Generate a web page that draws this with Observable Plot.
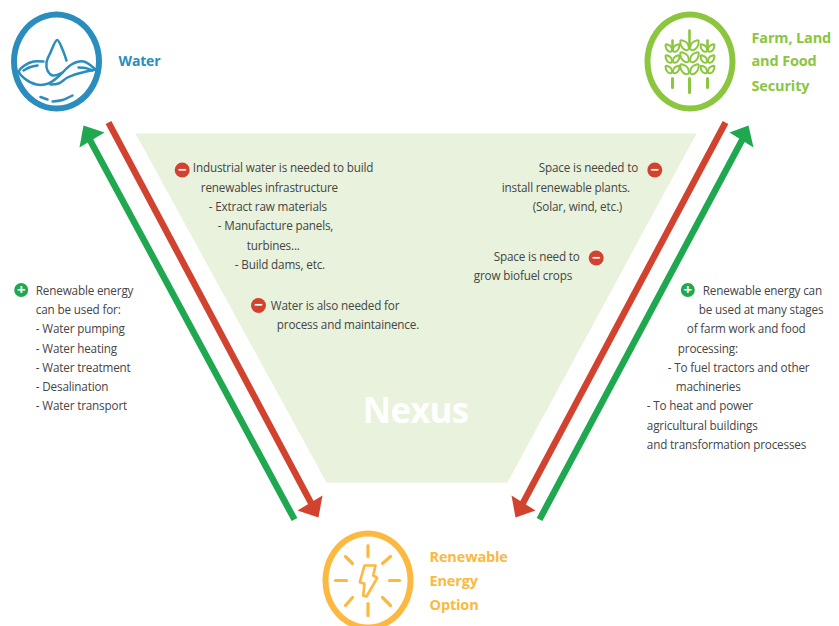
<!DOCTYPE html>
<html>
<head>
<meta charset="utf-8">
<style>html,body{margin:0;padding:0;background:#fff}svg{display:block}
.body-text text{letter-spacing:-.16px}
.title-text text{letter-spacing:-.15px}
.nexus-text text{letter-spacing:-.9px}</style>
<script src="https://cdn.jsdelivr.net/npm/d3@7"></script>
<script src="https://cdn.jsdelivr.net/npm/@observablehq/plot@0.6"></script>
</head>
<body>
<div id="chart"></div>
<script>
// Diagram content, in picture units of the x and y scales
const nexusPanel = [[135,133],[696,133],[507,482],[326,482]];

const greenShaftLeft = [[294,519],[87,135]];
const greenHeadLeft = [[83,125],[104,132],[79,147]];
const redShaftLeft = [[108,122],[314,509]];
const redHeadLeft = [[318,517],[297,510],[322,495]];
const redShaftRight = [[725,122],[519,509]];
const redHeadRight = [[515,517],[535,510],[511,495]];
const greenShaftRight = [[539,519],[744,135]];
const greenHeadRight = [[748,125],[729,132],[753,147]];

const ringOffsets = [[42.5,0],[36.8,23.5],[21.2,40.7],[0,47],[-21.2,40.7],[-36.8,23.5],[-42.5,0],[-36.8,-23.5],[-21.2,-40.7],[0,-47],[21.2,-40.7],[36.8,-23.5]];
const waterCentre = [56,61];
const farmCentre = [689.5,61];
const sunCentre = [367.5,580];

const waterStrokes = [
  [[43,61],[33,61],[24,65],[18.5,71],[24,78],[36,84],[48,83],[58,76],[71,64],[83,61],[95,69]],
  [[50,84],[58,83],[67,77],[78,73],[95,69]],
  [[23,70],[30,66.5],[37,65]],
  [[40,96.5],[47,99]],
  [[52,101],[62,99.5],[72,95]],
  [[78,67],[85,67.5],[92,70]]
];
const waterDrop = [[62,72],[52,75],[47,70],[46,62],[50,52],[56.7,39.5],[62,49],[66,60]];

const wheatStalks = [[672,0.75],[689,1],[707,0.75]];
const wheatStems = [[[672,78],[672,87]],[[689,78],[689,92]],[[707,78],[707,87]]];
const wheatSpikes = [[[672,40],[672,50]],[[689,30],[689,46]],[[707,40],[707,50]]];
const wheatRowsMiddle = [40,52,64];
const wheatRowsSide = [44,55,65.5];
const leafRight = [[1,9],[2,3],[7,0],[9,0],[8,6],[4,9.5]];

const sunRays = [
  [[367.5,545],[367.5,556]],[[367.5,603],[367.5,615]],
  [[335,580],[346,580]],[[389,580],[399,580]],
  [[345,556],[352,563]],[[390,556],[382,563]],
  [[345,605],[352,597]],[[390,605],[382,597]]
];
const sunBolt = [[364,565],[375,565],[372.7,575],[376.7,577.3],[366,596],[362.7,595],[364,583.3],[359.3,581.7]];

const minusSigns = [[181.7,169.5],[258,305],[654.3,169.5],[595.7,257.5]];
const plusSigns = [[20.7,289.5],[687.3,289.5]];

const bodyLines = [
  ["Renewable energy",36,291],["can be used for:",36,310],["- Water pumping",36,329],
  ["- Water heating",36,348.5],["- Water treatment",36,368],["- Desalination",36,387],["- Water transport",36,406],
  ["Industrial water is needed to build",193,168],["renewables infrastructure",201,188],
  ["- Extract raw materials",209,207],["- Manufacture panels,",218,226],["turbines...",247,246],
  ["- Build dams, etc.",235,265],["Water is also needed for",271,306],["process and maintainence.",277,325],
  ["Space is needed to",539,168],["install renewable plants.",502,188],["(Solar, wind, etc.)",533,207],
  ["Space is need to",494,257],["grow biofuel crops",474,276],
  ["Renewable energy can",703,291],["be used at many stages",699,310],["of farm work and food",687,329],
  ["processing:",678,349],["- To fuel tractors and other",668,368],["machineries",676,387],
  ["- To heat and power",647,406],["agricultural buildings",647,426],["and transformation processes",647,445]
];
const waterTitle = [["Water",118,61]];
const farmTitle = [["Farm, Land",751,38],["and Food",751,61],["Security",751,86]];
const energyTitle = [["Renewable",429,557],["Energy",429,581],["Option",429,605]];
const nexusTitle = [["Nexus",415,411]];

const BLUE="#2a8dbd", LEAF="#8cc63f", SUN="#fdb840", RED="#d2432f", GREEN="#1fa84f", INK="#454545", PALE="#e8f2dc";
const X=d=>d[0], Y=d=>d[1];
const poly=(pts,fill)=>Plot.line(pts,{x:X,y:Y,fill,stroke:"none",curve:"linear-closed"});
const shaft=(pts,stroke)=>Plot.line(pts,{x:X,y:Y,stroke,strokeWidth:6.5,strokeLinecap:"butt"});
const ring=(c,stroke,w)=>Plot.line(ringOffsets,{x:d=>c[0]+d[0],y:d=>c[1]+d[1],stroke,strokeWidth:w,curve:"catmull-rom-closed"});
const strokes=(list,stroke,w,curve)=>list.map(pts=>Plot.line(pts,{x:X,y:Y,stroke,strokeWidth:w,curve,strokeLinecap:"round",strokeLinejoin:"round"}));
const titles=(rows,fill,size)=>Plot.text(rows,{text:d=>d[0],x:d=>d[1],y:d=>d[2],fill,fontSize:size,fontWeight:700,textAnchor:"start",lineAnchor:"middle",fontFamily:"'Open Sans',sans-serif",className:"title-text"});

const leaves=[];
wheatStalks.forEach(([cx,s],i)=>{
  (i===1?wheatRowsMiddle:wheatRowsSide).forEach(top=>{
    [1,-1].forEach(dir=>{
      leaves.push(Plot.line(leafRight,{x:d=>cx+dir*s*d[0],y:d=>top+s*d[1],stroke:LEAF,strokeWidth:2,curve:"catmull-rom-closed"}));
    });
  });
});

const chart=Plot.plot({
  width:839,height:626,margin:0,
  style:{background:"#fff"},
  x:{domain:[0,839],range:[0,839],axis:null},
  y:{domain:[0,626],range:[0,626],axis:null},
  marks:[
    poly(nexusPanel,PALE),
    shaft(greenShaftLeft,GREEN),poly(greenHeadLeft,GREEN),
    shaft(redShaftLeft,RED),poly(redHeadLeft,RED),
    shaft(redShaftRight,RED),poly(redHeadRight,RED),
    shaft(greenShaftRight,GREEN),poly(greenHeadRight,GREEN),
    ring(waterCentre,BLUE,6),
    ...strokes(waterStrokes,BLUE,2.5,"catmull-rom"),
    ...strokes([waterDrop],BLUE,2.5,"catmull-rom"),
    ring(farmCentre,LEAF,6),
    ...strokes(wheatStems,LEAF,3,"linear"),
    ...strokes(wheatSpikes,LEAF,2.6,"linear"),
    ...leaves,
    ring(sunCentre,SUN,6),
    ...strokes(sunRays,SUN,3.2,"linear"),
    Plot.line(sunBolt,{x:X,y:Y,stroke:SUN,strokeWidth:2.6,curve:"linear-closed",strokeLinejoin:"round"}),
    Plot.dot(minusSigns,{x:X,y:Y,r:7.5,fill:RED,stroke:"none"}),
    Plot.dot(plusSigns,{x:X,y:Y,r:7,fill:GREEN,stroke:"none"}),
    Plot.text(minusSigns,{x:X,y:Y,text:()=>"−",fill:"#fff",fontSize:15,fontWeight:700,lineAnchor:"middle",fontFamily:"'Open Sans',sans-serif"}),
    Plot.text(plusSigns,{x:X,y:Y,text:()=>"+",fill:"#fff",fontSize:15,fontWeight:700,lineAnchor:"middle",fontFamily:"'Open Sans',sans-serif"}),
    Plot.text(bodyLines,{text:d=>d[0],x:d=>d[1],y:d=>d[2],dx:-0.7,fill:INK,fontSize:11.7,textAnchor:"start",lineAnchor:"middle",fontFamily:"'Open Sans',sans-serif",className:"body-text"}),
    titles(waterTitle,BLUE,14),
    titles(farmTitle,LEAF,14.5),
    titles(energyTitle,SUN,14.5),
    Plot.text(nexusTitle,{text:d=>d[0],x:d=>d[1],y:d=>d[2],fill:"#fff",fontSize:35,fontWeight:700,lineAnchor:"middle",fontFamily:"'Open Sans',sans-serif",className:"nexus-text"})
  ]
});
document.getElementById("chart").append(chart);
</script>
</body>
</html>
